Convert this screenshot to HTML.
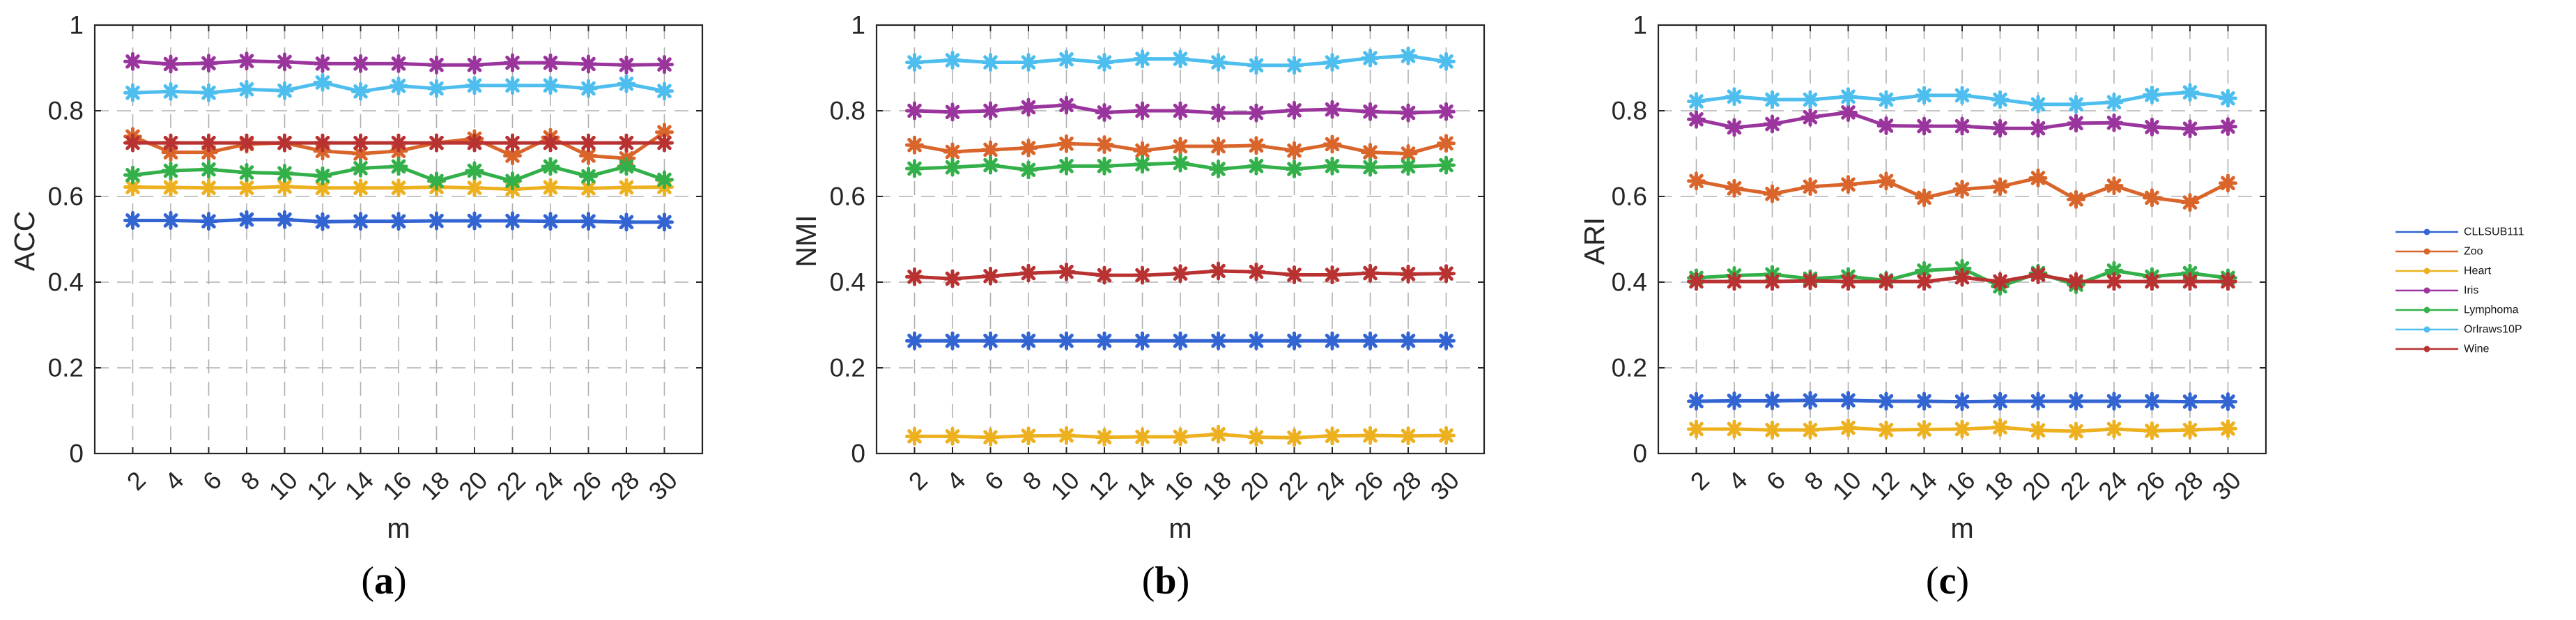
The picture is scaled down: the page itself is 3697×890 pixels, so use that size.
<!DOCTYPE html>
<html><head><meta charset="utf-8">
<style>
html,body{margin:0;padding:0;background:#fff;}
svg{display:block;font-family:"Liberation Sans",sans-serif;}
</style></head>
<body>
<svg id="fig" width="3697" height="890" viewBox="0 0 3697 890" xmlns="http://www.w3.org/2000/svg"></svg>
<script>
const categories = [2,4,6,8,10,12,14,16,18,20,22,24,26,28,30];
const seriesNames = ["CLLSUB111","Zoo","Heart","Iris","Lymphoma","Orlraws10P","Wine"];
const yTicks = [0,0.2,0.4,0.6,0.8,1];
const yTickLabels = ["0","0.2","0.4","0.6","0.8","1"];
const panelTitles = ["ACC","NMI","ARI"];
const panelLetters = ["(a)","(b)","(c)"];

const accCLL = [0.544,0.544,0.542,0.546,0.546,0.541,0.542,0.542,0.543,0.543,0.543,0.542,0.542,0.540,0.540];
const accZoo = [0.740,0.703,0.703,0.722,0.725,0.706,0.700,0.706,0.725,0.735,0.695,0.738,0.695,0.689,0.750];
const accHeart = [0.622,0.621,0.620,0.620,0.623,0.620,0.620,0.620,0.622,0.620,0.617,0.621,0.619,0.621,0.622];
const accIris = [0.915,0.909,0.911,0.916,0.914,0.910,0.910,0.910,0.907,0.907,0.912,0.912,0.909,0.907,0.908];
const accLymph = [0.650,0.660,0.663,0.656,0.654,0.648,0.666,0.670,0.636,0.660,0.636,0.670,0.647,0.670,0.639];
const accOrl = [0.842,0.845,0.842,0.850,0.847,0.866,0.845,0.858,0.852,0.859,0.859,0.859,0.852,0.863,0.846];
const accWine = [0.725,0.725,0.725,0.725,0.725,0.725,0.725,0.725,0.725,0.725,0.725,0.725,0.725,0.725,0.725];

const nmiCLL = [0.263,0.263,0.263,0.263,0.263,0.263,0.263,0.263,0.263,0.263,0.263,0.263,0.263,0.263,0.263];
const nmiZoo = [0.720,0.704,0.709,0.713,0.723,0.721,0.707,0.717,0.717,0.719,0.707,0.722,0.703,0.700,0.724];
const nmiHeart = [0.040,0.040,0.038,0.041,0.042,0.038,0.039,0.039,0.045,0.038,0.037,0.041,0.042,0.041,0.042];
const nmiIris = [0.800,0.797,0.800,0.808,0.813,0.796,0.800,0.800,0.795,0.795,0.801,0.803,0.798,0.795,0.798];
const nmiLymph = [0.665,0.668,0.673,0.662,0.671,0.671,0.675,0.678,0.664,0.671,0.664,0.671,0.668,0.670,0.673];
const nmiOrl = [0.913,0.918,0.913,0.913,0.920,0.913,0.921,0.921,0.913,0.906,0.906,0.913,0.923,0.928,0.915];
const nmiWine = [0.4125,0.408,0.414,0.421,0.424,0.416,0.416,0.420,0.426,0.424,0.417,0.417,0.421,0.419,0.420];

const ariCLL = [0.122,0.123,0.123,0.124,0.124,0.122,0.122,0.121,0.122,0.122,0.122,0.122,0.122,0.121,0.121];
const ariZoo = [0.636,0.619,0.606,0.623,0.628,0.636,0.597,0.617,0.623,0.643,0.593,0.625,0.597,0.586,0.631];
const ariHeart = [0.057,0.057,0.055,0.055,0.060,0.055,0.056,0.057,0.061,0.054,0.052,0.057,0.053,0.055,0.058];
const ariIris = [0.780,0.761,0.769,0.785,0.796,0.765,0.764,0.764,0.759,0.759,0.771,0.772,0.762,0.758,0.763];
const ariLymph = [0.410,0.4155,0.418,0.408,0.413,0.404,0.427,0.432,0.390,0.421,0.394,0.427,0.413,0.421,0.410];
const ariOrl = [0.822,0.833,0.826,0.826,0.833,0.826,0.836,0.836,0.826,0.815,0.815,0.820,0.837,0.843,0.829];
const ariWine = [0.4015,0.4015,0.4015,0.403,0.4015,0.4015,0.4015,0.411,0.4015,0.417,0.4015,0.4015,0.4015,0.4015,0.4015];

const colors = ["#3264D2","#D9652B","#EDB120","#9B359E","#33B04A","#4DBEEE","#B83232"];
const panelData = [
  [accCLL,accZoo,accHeart,accIris,accLymph,accOrl,accWine],
  [nmiCLL,nmiZoo,nmiHeart,nmiIris,nmiLymph,nmiOrl,nmiWine],
  [ariCLL,ariZoo,ariHeart,ariIris,ariLymph,ariOrl,ariWine]
];
const panelLefts = [136,1258,2380];
const panelYLabelX = [35,1157,2288];
const plotW = 872, plotTop = 36, plotBottom = 651;
const xMin = 0, xMax = 32;

const NS = "http://www.w3.org/2000/svg";
const svg = document.getElementById("fig");
function mk(tag, attrs, parent){
  const e = document.createElementNS(NS, tag);
  for (const k in attrs) e.setAttribute(k, attrs[k]);
  (parent||svg).appendChild(e);
  return e;
}

panelData.forEach((series, p) => {
  const L = panelLefts[p], R = L + plotW;
  const xs = v => L + (v - xMin) / (xMax - xMin) * plotW;
  const ys = v => plotBottom - v * (plotBottom - plotTop);
  const g = mk("g", {});
  
  

  const grid = mk("g", {stroke:"#b0b0b0","stroke-width":"1.6","stroke-dasharray":"20 12"}, g);
  
  
  categories.forEach(c => { mk("line",{x1:xs(c),x2:xs(c),y1:plotTop,y2:plotBottom},grid); });
  yTicks.slice(1,-1).forEach(t => { mk("line",{x1:L,x2:R,y1:ys(t),y2:ys(t)},grid); });

  const ticks = mk("g", {stroke:"#262626","stroke-width":"2"}, g);
  categories.forEach(c => {
    mk("line",{x1:xs(c),x2:xs(c),y1:plotBottom,y2:plotBottom-9},ticks);
    mk("line",{x1:xs(c),x2:xs(c),y1:plotTop,y2:plotTop+9},ticks);
  });
  yTicks.forEach(t => {
    mk("line",{x1:L,x2:L+9,y1:ys(t),y2:ys(t)},ticks);
    mk("line",{x1:R,x2:R-9,y1:ys(t),y2:ys(t)},ticks);
  });

  series.forEach((vals, s) => {
    const sg = mk("g", {}, g);
    
    
    const pts = vals.map((v,i) => xs(categories[i]) + "," + ys(v)).join(" ");
    mk("polyline",{points:pts,fill:"none",stroke:colors[s],"stroke-width":"5","stroke-linejoin":"round"},sg);
    vals.forEach((v,i) => {
      const cx = xs(categories[i]), cy = ys(v), r = 11, d = r*0.7071;
      const m = mk("path",{d:`M${cx-r},${cy}H${cx+r}M${cx},${cy-r}V${cy+r}M${cx-d},${cy-d}L${cx+d},${cy+d}M${cx-d},${cy+d}L${cx+d},${cy-d}`,
        stroke:colors[s],"stroke-width":"5","stroke-linecap":"round"},sg);
      
      
    });
  });

  const box = mk("rect",{x:L,y:plotTop,width:plotW,height:plotBottom-plotTop,fill:"none",stroke:"#262626","stroke-width":"2.2"},g);
  
  

  yTicks.forEach((t,i) => {
    const tx = mk("text",{x:L-16,y:ys(t),"text-anchor":"end","dominant-baseline":"central","font-size":"37",fill:"#262626"},g);
    tx.textContent = yTickLabels[i];
    
    
  });
  categories.forEach(c => {
    const ax = xs(c) + 12, ay = 683;
    const tx = mk("text",{x:ax,y:ay,"text-anchor":"end","dominant-baseline":"central","font-size":"36",fill:"#262626",transform:`rotate(-45 ${ax} ${ay})`},g);
    tx.textContent = c;
    
    
  });
  const xl = mk("text",{x:(L+R)/2,y:759,"text-anchor":"middle","dominant-baseline":"central","font-size":"40",fill:"#262626"},g);
  xl.textContent = "m";
  
  
  const yx = panelYLabelX[p], yy = 346;
  const yl = mk("text",{x:yx,y:yy,"text-anchor":"middle","dominant-baseline":"central","font-size":"41",fill:"#262626",transform:`rotate(-90 ${yx} ${yy})`},g);
  yl.textContent = panelTitles[p];
  
  
  const cap = mk("text",{x:(L+R)/2-21,y:834,"text-anchor":"middle","dominant-baseline":"central","font-size":"56","font-family":"Liberation Serif, serif",fill:"#000"},g);
  const t1 = mk("tspan",{},cap); t1.textContent = "(";
  const t2 = mk("tspan",{"font-weight":"bold"},cap); t2.textContent = panelLetters[p].slice(1,-1);
  const t3 = mk("tspan",{},cap); t3.textContent = ")";
  
  
});

const lg = mk("g", {});


seriesNames.forEach((n, s) => {
  const y = 333 + s * 28;
  const e = mk("g", {}, lg);
  
  
  mk("line",{x1:3438,x2:3528,y1:y,y2:y,stroke:colors[s],"stroke-width":"2.5"},e);
  mk("circle",{cx:3483,cy:y,r:4.5,fill:colors[s]},e);
  const t = mk("text",{x:3536,y:y,"dominant-baseline":"central","font-size":"16",fill:"#111"},e);
  t.textContent = n;
});
</script>
</body></html>
